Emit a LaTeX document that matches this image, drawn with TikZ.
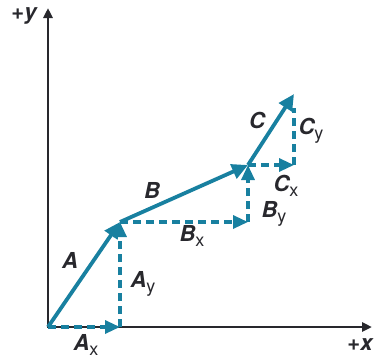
\documentclass[tikz,border=0pt]{standalone}
\usepackage{fontspec}
\setmainfont{TeX Gyre Heros}
\usetikzlibrary{arrows.meta}
\definecolor{vec}{RGB}{24,128,160}
\definecolor{axis}{RGB}{40,40,45}
\newcommand{\lab}[2]{{\bfseries\itshape #1}\raisebox{-0.25em}{\fontsize{18}{18}\selectfont #2}}
\tikzset{
  vector/.style={draw=vec, line width=3.8pt, -{Triangle[length=16pt,width=15pt]}},
  comp/.style={draw=vec, line width=3.2pt, dash pattern=on 8pt off 5pt, -{Triangle[length=15pt,width=13pt]}},
  compnt/.style={draw=vec, line width=3.2pt, dash pattern=on 8pt off 5pt},
  axisline/.style={draw=axis, line width=2.6pt, -{Triangle[length=10pt,width=9pt]}},
  lbl/.style={font=\fontsize{22}{22}\selectfont, inner sep=0pt, text=axis}
}
\begin{document}
\begin{tikzpicture}[x=1pt,y=-1pt]
\useasboundingbox (0,0) rectangle (378,362);
\coordinate (O) at (48,327);
\coordinate (ytop) at (48,8);
\coordinate (xend) at (372,327);
\coordinate (Atip) at (120,222);
\coordinate (Ax) at (120,327);
\coordinate (Btip) at (248,165);
\coordinate (Bx) at (248,222);
\coordinate (Ctip) at (294,94);
\coordinate (Cx) at (294,165);
% axes
\draw[axisline] (O) -- (ytop);
\draw[axisline] ([xshift=-1.3pt]O) -- (xend);
% components
\draw[comp] (O) -- (Ax);
\draw[comp] (Ax) -- (Atip);
\draw[comp] (Atip) -- (Bx);
\draw[comp] (Bx) -- (Btip);
\draw[comp] (Btip) -- (Cx);
\draw[compnt] (Cx) -- ([yshift=-14pt]Ctip);
% vectors
\draw[vector] (O) -- (Atip);
\draw[vector] (Atip) -- (Btip);
\draw[vector] (Btip) -- (Ctip);
% labels
\node[lbl] (ly) at (24,16) {\bfseries +\itshape y};
\node[lbl] (lx) at (360,345) {\bfseries +\itshape x};
\node[lbl] (lA) at (70,260) {\bfseries\itshape A};
\node[lbl] (lAx) at (86,345) {\lab{A}{x}};
\node[lbl] (lAy) at (143,284) {\lab{A}{y}};
\node[lbl] (lB) at (152,190) {\bfseries\itshape B};
\node[lbl] (lBx) at (192,236) {\lab{B}{x}};
\node[lbl] (lBy) at (274,214) {\lab{B}{y}};
\node[lbl] (lC) at (257,120) {\bfseries\itshape C};
\node[lbl] (lCx) at (286,186) {\lab{C}{x}};
\node[lbl] (lCy) at (311,131) {\lab{C}{y}};
\end{tikzpicture}
\end{document}
